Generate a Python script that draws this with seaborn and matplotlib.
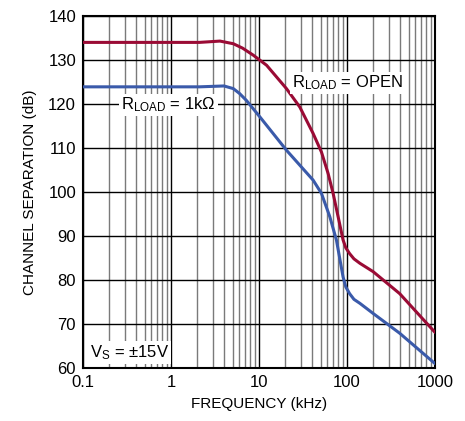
import matplotlib
matplotlib.use('Agg')
import matplotlib.pyplot as plt
import matplotlib.ticker as mticker
import seaborn as sns
import pandas as pd

# Curves (frequency in kHz, channel separation in dB)
freq_open = [0.1, 1, 2.1, 3.6, 5.1, 6.5, 8.6, 12.2, 20.5, 29.1, 41.2, 51.2, 61, 69.5, 79.2, 90.2, 97, 107, 120, 140, 198, 397, 1000]
sep_open = [134, 134, 134, 134.3, 133.7, 132.7, 131.1, 128.8, 123.5, 119.3, 113.3, 109.1, 104.2, 99.7, 94.4, 89.1, 87.3, 86.0, 84.8, 83.8, 81.9, 76.9, 68.1]

freq_1k = [0.1, 1, 2.1, 4, 5.1, 6, 7.2, 10.2, 20.5, 41.2, 51.2, 63.7, 75.8, 90.2, 97, 107, 120, 140, 198, 397, 1000]
sep_1k = [123.9, 123.9, 123.9, 124.1, 123.5, 122.4, 120.8, 117.1, 109.5, 102.7, 99.7, 94.4, 89.1, 80.7, 78.4, 76.9, 75.6, 74.7, 72.4, 67.9, 61.0]

x_ticks = [0.1, 1, 10, 100, 1000]
x_labels = ['0.1', '1', '10', '100', '1000']
y_ticks = [60, 70, 80, 90, 100, 110, 120, 130, 140]

sns.set_style('white')
plt.rcParams['font.family'] = ['Liberation Sans', 'DejaVu Sans']
plt.rcParams['mathtext.default'] = 'regular'
plt.rcParams['text.color'] = 'black'
plt.rcParams['axes.labelcolor'] = 'black'

df = pd.concat([
    pd.DataFrame({'freq': freq_open, 'sep': sep_open, 'load': 'open'}),
    pd.DataFrame({'freq': freq_1k, 'sep': sep_1k, 'load': '1k'}),
])

fig = plt.figure(figsize=(4.65, 4.21), dpi=100)
ax = fig.add_axes([0.1785, 0.1259, 0.757, 0.8361])

sns.lineplot(data=df, x='freq', y='sep', hue='load',
             palette={'open': '#9a0b35', '1k': '#3a5aaa'},
             linewidth=2.2, legend=False, ax=ax, zorder=5)

ax.set_xscale('log')
ax.set_xlim(0.1, 1000)
ax.set_ylim(60, 140)
ax.set_xticks(x_ticks)
ax.set_xticklabels(x_labels)
ax.set_yticks(y_ticks)
ax.xaxis.set_minor_locator(mticker.LogLocator(base=10, subs=range(2, 10), numticks=20))
ax.xaxis.set_minor_formatter(mticker.NullFormatter())
ax.grid(which='major', color='black', linewidth=1.0)
ax.grid(which='minor', axis='x', color='#7a7a7a', linewidth=1.0)
ax.tick_params(which='both', length=0, labelsize=12, colors='black', pad=5)
for sp in ax.spines.values():
    sp.set_color('black')
    sp.set_linewidth(1.5)

ax.set_xlabel('FREQUENCY (kHz)', fontsize=11, labelpad=5)
ax.set_ylabel('CHANNEL SEPARATION (dB)', fontsize=11, labelpad=8)

box = dict(facecolor='white', edgecolor='none', pad=1.5)
ax.text(0.27, 119.8, r'R$_{LOAD}$ = 1k$\Omega$', fontsize=12, ha='left', va='center', bbox=box, zorder=6)
ax.text(24, 124.8, r'R$_{LOAD}$ = OPEN', fontsize=12, ha='left', va='center', bbox=box, zorder=6)
ax.text(0.12, 63.6, r'V$_{S}$ = ±15V', fontsize=12, ha='left', va='center', bbox=box, zorder=6)

fig.savefig('out.png', dpi=100)
